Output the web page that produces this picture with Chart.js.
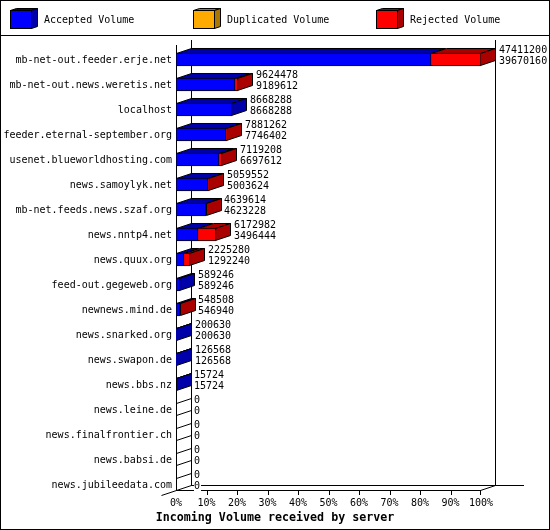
<!DOCTYPE html>
<html><head><meta charset="utf-8">
<style>html,body{margin:0;padding:0;background:#fff}canvas{display:block}</style>
<script src="https://cdn.jsdelivr.net/npm/chart.js@4"></script>
</head><body><canvas id="c" width="550" height="530"></canvas>
<script>
const categories = ["mb-net-out.feeder.erje.net","mb-net-out.news.weretis.net","localhost","feeder.eternal-september.org","usenet.blueworldhosting.com","news.samoylyk.net","mb-net.feeds.news.szaf.org","news.nntp4.net","news.quux.org","feed-out.gegeweb.org","newnews.mind.de","news.snarked.org","news.swapon.de","news.bbs.nz","news.leine.de","news.finalfrontier.ch","news.babsi.de","news.jubileedata.com"];
const totalVolume = [47411200,9624478,8668288,7881262,7119208,5059552,4639614,6172982,2225280,589246,548508,200630,126568,15724,0,0,0,0];
const acceptedVolume = [39670160,9189612,8668288,7746402,6697612,5003624,4623228,3496444,1292240,589246,546940,200630,126568,15724,0,0,0,0];
const duplicatedVolume = [0,0,0,0,0,0,0,0,0,0,0,0,0,0,0,0,0,0];
const rejectedVolume = [7741040,434866,0,134860,421596,55928,16386,2676538,933040,0,1568,0,0,0,0,0,0,0];
const seriesNames = ["Accepted Volume","Duplicated Volume","Rejected Volume"];
const frontColors = ["#0000ff","#ffaa00","#ff0000"];
const shadeColors = ["#0000aa","#aa7700","#aa0000"];
const percentLabels = ["0%","10%","20%","30%","40%","50%","60%","70%","80%","90%","100%"];
const axisMax = 47411200;
const chartTitle = "Incoming Volume received by server";

const MONO = '"DejaVu Sans Mono"';
const DX = 15, DY = 5;

function poly(ctx, pts, fill){
  ctx.beginPath();
  pts.forEach((p,i)=> i ? ctx.lineTo(p[0],p[1]) : ctx.moveTo(p[0],p[1]));
  ctx.closePath();
  if(fill){ctx.fillStyle=fill;ctx.fill();}
  ctx.stroke();
}
function line(ctx,x1,y1,x2,y2){ctx.beginPath();ctx.moveTo(x1,y1);ctx.lineTo(x2,y2);ctx.stroke();}
const ifValue = color => c => (c.raw ? color : 'rgba(0,0,0,0)');

const frame3d = {
  id:'frame3d',
  afterDatasetsUpdate(chart){
    chart.data.datasets.forEach((d,i)=>{
      chart.getDatasetMeta(i).data.forEach(el=>{
        el.x=Math.round(el.x); el.base=Math.round(el.base);
      });
    });
  },
  beforeDatasetsDraw(chart){
    const ctx=chart.ctx, xs=chart.scales.x;
    ctx.save();
    ctx.strokeStyle='#000'; ctx.lineWidth=1;
    const L=Math.round(xs.getPixelForValue(0)), R=Math.round(xs.getPixelForValue(axisMax))-1;
    const frontY=490, backY=485;
    // walls and floor
    line(ctx,L+.5,45,L+.5,frontY+.5);
    line(ctx,L+DX+.5,40,L+DX+.5,backY+.5);
    line(ctx,R+DX+.5,40,R+DX+.5,backY+.5);
    line(ctx,L+DX,backY+.5,524,backY+.5);
    line(ctx,L,frontY+.5,R+1,frontY+.5);
    line(ctx,L+.5-DX,frontY+5.5,L+.5,frontY+.5);
    line(ctx,R+.5,frontY+.5,R+DX+.5,backY+.5);
    percentLabels.forEach((t,i)=>{
      if(i===0) return;
      const x=Math.round(xs.getPixelForValue(axisMax*i/10))-(i===10?1:0);
      line(ctx,x+.5,frontY,x+.5,frontY+5);
    });
    // depth faces of the bars
    categories.forEach((c,j)=>{
      const base=chart.getDatasetMeta(0).data[j];
      const top=base.y-base.height/2, bot=top+base.height-1;
      if(totalVolume[j]===0){
        line(ctx,L+.5,top+.5,L+DX+.5,top-DY+.5);
        line(ctx,L+.5,bot+.5,L+DX+.5,bot-DY+.5);
        return;
      }
      let lastShade=shadeColors[0], lastEnd=L;
      chart.data.datasets.forEach((d,i)=>{
        if(!d.data[j]) return;
        const el=chart.getDatasetMeta(i).data[j];
        const a=el.base, b=Math.max(el.x-1,a);
        poly(ctx,[[a+.5,top+.5],[b+.5,top+.5],[b+DX+.5,top-DY+.5],[a+DX+.5,top-DY+.5]],shadeColors[i]);
        lastShade=shadeColors[i]; lastEnd=b;
      });
      poly(ctx,[[lastEnd+.5,top+.5],[lastEnd+DX+.5,top-DY+.5],[lastEnd+DX+.5,bot-DY+.5],[lastEnd+.5,bot+.5]],lastShade);
    });
    ctx.restore();
  },
  afterDatasetsDraw(chart){
    const ctx=chart.ctx, xs=chart.scales.x;
    ctx.save();
    ctx.font='10px '+MONO; ctx.textBaseline='middle'; ctx.textAlign='left';
    categories.forEach((c,j)=>{
      const el=chart.getDatasetMeta(0).data[j];
      const x=Math.round(xs.getPixelForValue(totalVolume[j]))+DX+3;
      [[totalVolume[j],-9],[acceptedVolume[j],2]].forEach(([v,off])=>{
        const t=String(v), w=ctx.measureText(t).width;
        ctx.fillStyle='#fff'; ctx.fillRect(x,Math.round(el.y+off-4),w+1,9);
        ctx.fillStyle='#000'; ctx.fillText(t,x,el.y+off);
      });
    });
    ctx.restore();
  },
  afterDraw(chart){
    const ctx=chart.ctx;
    ctx.save();
    ctx.strokeStyle='#000'; ctx.lineWidth=1;
    ctx.strokeRect(.5,.5,549,529);
    line(ctx,0,35.5,550,35.5);
    const boxX=[10,193,376], textX=[44,227,410];
    ctx.font='10px '+MONO; ctx.textBaseline='middle'; ctx.textAlign='left';
    seriesNames.forEach((n,i)=>{
      const x=boxX[i]+.5, w=21;
      poly(ctx,[[x,10.5],[x+6,8.5],[x+w+6,8.5],[x+w,10.5]],shadeColors[i]);
      poly(ctx,[[x+w,10.5],[x+w+6,8.5],[x+w+6,26.5],[x+w,28.5]],shadeColors[i]);
      ctx.fillStyle=frontColors[i]; ctx.fillRect(x,10.5,w,18); ctx.strokeRect(x,10.5,w,18);
      ctx.fillStyle='#000'; ctx.fillText(n,textX[i],20.5);
    });
    ctx.restore();
  }
};

new Chart(document.getElementById('c'),{
  type:'bar',
  plugins:[frame3d],
  data:{
    labels:categories,
    datasets:[
      {label:seriesNames[0],data:acceptedVolume,backgroundColor:ifValue(frontColors[0]),borderColor:ifValue('#000'),borderWidth:{left:1,right:1,top:1,bottom:1}},
      {label:seriesNames[1],data:duplicatedVolume,backgroundColor:ifValue(frontColors[1]),borderColor:ifValue('#000'),borderWidth:0},
      {label:seriesNames[2],data:rejectedVolume,backgroundColor:ifValue(frontColors[2]),borderColor:ifValue('#000'),borderWidth:{left:0,right:1,top:1,bottom:1}}
    ]
  },
  options:{
    indexAxis:'y',
    responsive:false,
    animation:false,
    devicePixelRatio:1,
    layout:{padding:{top:47,left:0,right:0,bottom:0}},
    datasets:{bar:{barThickness:13,borderSkipped:false}},
    scales:{
      x:{
        type:'linear',stacked:true,min:0,max:axisMax,
        afterBuildTicks(s){s.ticks=percentLabels.map((t,i)=>({value:axisMax*i/10}));},
        afterFit(s){s.height=14;},
        grid:{display:false,drawTicks:false},border:{display:false},
        ticks:{padding:0,autoSkip:false,maxRotation:0,color:'#000',font:{family:MONO,size:10},
          callback:(v,i)=>percentLabels[i]}
      },
      y:{
        type:'category',stacked:true,
        afterFit(s){s.width=176;},
        grid:{display:false,drawTicks:false},border:{display:false},
        ticks:{padding:4,labelOffset:1,autoSkip:false,color:'#000',font:{family:MONO,size:10}}
      },
      spacer:{
        type:'linear',position:'right',display:true,
        afterFit(s){s.width=69;},
        grid:{display:false,drawTicks:false},border:{display:false},ticks:{display:false}
      }
    },
    plugins:{
      legend:{display:false},
      tooltip:{enabled:false},
      title:{display:true,position:'bottom',text:chartTitle,color:'#000',
        font:{family:MONO,size:11.67,weight:'bold',lineHeight:1.2},padding:{top:0,bottom:5}}
    }
  }
});
</script></body></html>
